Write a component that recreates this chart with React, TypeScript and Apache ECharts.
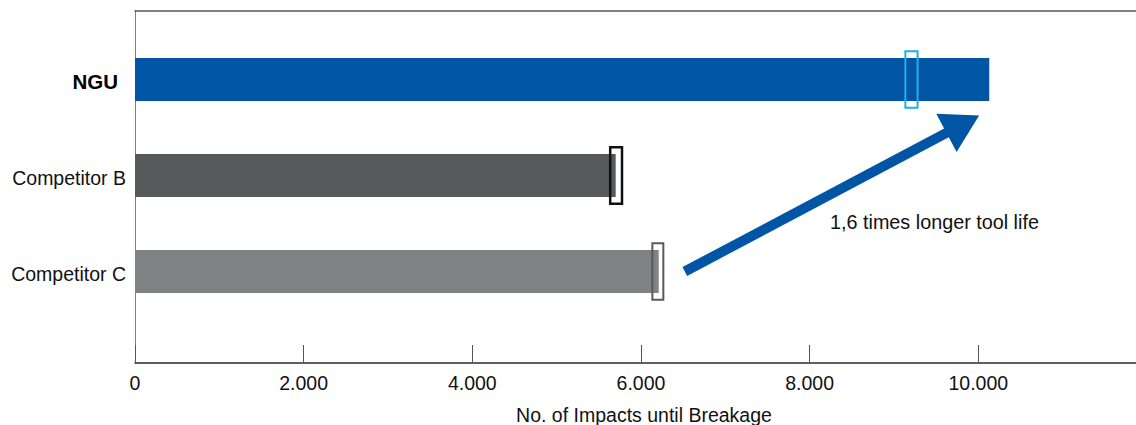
import React, { useEffect, useRef } from 'react';
import * as echarts from 'echarts';

// ---- data ----
const categories = ['NGU', 'Competitor B', 'Competitor C'];
const impacts = [10130, 5700, 6210];
const rangeLow = [9135, 5635, 6135];
const rangeHigh = [9280, 5775, 6265];
const xTicks = [0, 2000, 4000, 6000, 8000, 10000];
const xTickInterval = 2000;
const xMax = 11870;
const xAxisTitle = 'No. of Impacts until Breakage';
const annotationText = '1,6 times longer tool life';
// arrow annotation: [impacts, category position]
const arrowFrom = [6520, 2];
const arrowTo = [10010, 0.375];

// ---- styles ----
const FONT = '"Liberation Sans", Arial, Helvetica, sans-serif';
const barColors = ['#0055a4', '#58595b', '#808184'];
const boxColors = ['#1fb0ea', '#111111', '#58595b'];
const boxWidths = [2, 2.5, 2];
const arrowColor = '#0055a4';

const fmt = (v: number) => String(v).replace(/\B(?=(\d{3})+(?!\d))/g, '.');

export default function App() {
  const ref = useRef<HTMLDivElement>(null);
  useEffect(() => {
    const chart = echarts.init(ref.current!, null, { renderer: 'svg' });
    const option: any = {
      animation: false,
      backgroundColor: '#ffffff',
      grid: [
        { left: 135, right: 0, top: 11, bottom: 62, containLabel: false, outerBoundsMode: 'none' },
        { left: 135, right: 0, top: 31.5, height: 288, containLabel: false, outerBoundsMode: 'none' },
      ],
      xAxis: [
        {
          gridIndex: 0,
          type: 'value',
          min: 0,
          max: xMax,
          interval: xTickInterval,
          axisLine: { show: true, lineStyle: { color: '#2b2b2b', width: 1.5 } },
          axisTick: { show: true, inside: true, length: 18, customValues: xTicks, lineStyle: { color: '#555555', width: 1 } },
          splitLine: { show: false },
          axisLabel: { margin: 10, fontSize: 19.5, color: '#111111', fontFamily: FONT, formatter: fmt, customValues: xTicks },
          name: xAxisTitle,
          nameLocation: 'middle',
          nameGap: 42,
          nameTextStyle: { fontSize: 19.5, color: '#111111', fontFamily: FONT, padding: [0, 0, 0, 17] },
        },
        { gridIndex: 1, type: 'value', min: 0, max: xMax, show: false },
        {
          gridIndex: 0,
          type: 'value',
          position: 'top',
          min: 0,
          max: xMax,
          axisLine: { show: true, lineStyle: { color: '#555555', width: 1.5 } },
          axisTick: { show: false },
          axisLabel: { show: false },
          splitLine: { show: false },
        },
      ],
      yAxis: [
        {
          gridIndex: 0,
          type: 'value',
          axisLine: { show: true, lineStyle: { color: '#808080', width: 1 } },
          axisTick: { show: false },
          axisLabel: { show: false },
          splitLine: { show: false },
        },
        {
          gridIndex: 1,
          type: 'category',
          data: categories,
          inverse: true,
          axisLine: { show: false },
          axisTick: { show: false },
          splitLine: { show: false },
          axisLabel: {
            margin: 9,
            formatter: (v: string, i: number) => (i === 0 ? `{b|${v}}` : `{n|${v}}`),
            rich: {
              b: { fontWeight: 'bold', fontSize: 20.5, color: '#000000', fontFamily: FONT, padding: [3, 8, 0, 0] },
              n: { fontSize: 19.5, color: '#111111', fontFamily: FONT, padding: [5, 0, 0, 0] },
            },
          },
        },
        { gridIndex: 1, type: 'value', min: -0.5, max: 2.5, inverse: true, show: false },
      ],
      series: [
        {
          type: 'bar',
          xAxisIndex: 1,
          yAxisIndex: 1,
          barWidth: 43,
          data: impacts.map((v, i) => ({ value: v, itemStyle: { color: barColors[i] } })),
          z: 2,
        },
        {
          type: 'custom',
          xAxisIndex: 1,
          yAxisIndex: 1,
          encode: { x: [0, 1], y: 2 },
          data: categories.map((c, i) => [rangeLow[i], rangeHigh[i], c]),
          renderItem: (params: any, api: any) => {
            const lo = api.coord([api.value(0), api.value(2)]);
            const hi = api.coord([api.value(1), api.value(2)]);
            const h = api.size([0, 1])[1] * 0.59;
            return {
              type: 'rect',
              shape: { x: lo[0], y: lo[1] - h / 2, width: hi[0] - lo[0], height: h },
              style: { fill: 'none', stroke: boxColors[params.dataIndex], lineWidth: boxWidths[params.dataIndex] },
            };
          },
          z: 3,
        },
        {
          type: 'custom',
          xAxisIndex: 1,
          yAxisIndex: 2,
          encode: { x: [0, 2], y: [1, 3] },
          data: [[arrowFrom[0], arrowFrom[1], arrowTo[0], arrowTo[1]]],
          renderItem: (params: any, api: any) => {
            const a = api.coord([api.value(0), api.value(1)]);
            const b = api.coord([api.value(2), api.value(3)]);
            const dx = b[0] - a[0];
            const dy = b[1] - a[1];
            const L = Math.hypot(dx, dy);
            const ux = dx / L, uy = dy / L;
            const nx = -uy, ny = ux;
            const headLen = 37, headHalf = 21.7, shaftHalf = 5;
            const bx = b[0] - ux * headLen, by = b[1] - uy * headLen;
            const points = [
              [a[0] + nx * shaftHalf, a[1] + ny * shaftHalf],
              [bx + nx * shaftHalf, by + ny * shaftHalf],
              [bx + nx * headHalf, by + ny * headHalf],
              [b[0], b[1]],
              [bx - nx * headHalf, by - ny * headHalf],
              [bx - nx * shaftHalf, by - ny * shaftHalf],
              [a[0] - nx * shaftHalf, a[1] - ny * shaftHalf],
            ];
            return { type: 'polygon', shape: { points }, style: { fill: arrowColor } };
          },
          z: 4,
        },
      ],
      graphic: [
        {
          type: 'text',
          x: 830,
          y: 222.4,
          style: {
            text: annotationText,
            fontSize: 19.8,
            fontFamily: FONT,
            fill: '#111111',
            verticalAlign: 'middle',
            align: 'left',
          },
        },
      ],
    };
    chart.setOption(option);
    return () => chart.dispose();
  }, []);
  return <div ref={ref} style={{ position: 'fixed', left: 0, top: 0, width: 1136, height: 425, background: '#fff' }} />;
}
